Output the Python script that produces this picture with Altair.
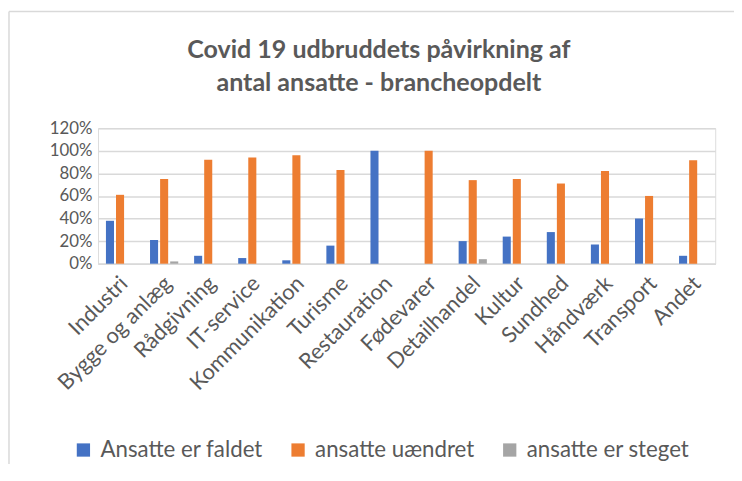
import altair as alt
import pandas as pd

categories = ["Industri", "Bygge og anlæg", "Rådgivning", "IT-service", "Kommunikation",
              "Turisme", "Restauration", "Fødevarer", "Detailhandel", "Kultur",
              "Sundhed", "Håndværk", "Transport", "Andet"]
series = ["Ansatte er faldet", "ansatte uændret", "ansatte er steget"]
faldet = [0.38, 0.21, 0.07, 0.05, 0.03, 0.16, 1.00, 0.00, 0.20, 0.24, 0.28, 0.17, 0.40, 0.07]
uaendret = [0.61, 0.75, 0.92, 0.94, 0.96, 0.83, 0.00, 1.00, 0.74, 0.75, 0.71, 0.82, 0.60, 0.915]
steget = [0.00, 0.02, 0.00, 0.00, 0.00, 0.00, 0.00, 0.00, 0.04, 0.00, 0.00, 0.00, 0.00, 0.00]
colors = ["#4472C4", "#ED7D31", "#A5A5A5"]
yticks = [0, 0.2, 0.4, 0.6, 0.8, 1.0, 1.2]
title_lines = ["Covid 19 udbruddets påvirkning af", "antal ansatte - brancheopdelt"]

rows = []
for i, c in enumerate(categories):
    for s, vals in zip(series, [faldet, uaendret, steget]):
        rows.append({"branche": c, "serie": s, "andel": vals[i]})
df = pd.DataFrame(rows)

FONT = "Lato"
TXT = "#595959"

bars = alt.Chart(df).mark_bar().encode(
    x=alt.X("branche:N", sort=categories, title=None,
            scale=alt.Scale(paddingInner=0.36, paddingOuter=0.18),
            axis=alt.Axis(labelAngle=-45, labelFontSize=22, labelColor=TXT, labelFont=FONT,
                          ticks=False, domainColor="#d9d9d9", domainWidth=1.5, labelPadding=9,
                          labelOffset=-3, labelLimit=0)),
    xOffset=alt.XOffset("serie:N", sort=series, scale=alt.Scale(paddingInner=0.2, paddingOuter=0)),
    y=alt.Y("andel:Q", title=None,
            scale=alt.Scale(domain=[0, 1.2], nice=False),
            axis=alt.Axis(values=yticks, format=".0%", labelFontSize=17, labelColor=TXT,
                          labelFont=FONT, ticks=False, domain=False, gridColor="#d9d9d9",
                          gridWidth=1.5, labelPadding=6)),
    color=alt.Color("serie:N", sort=series, title=None,
                    scale=alt.Scale(domain=series, range=colors),
                    legend=alt.Legend(orient="none", legendX=-26, legendY=314, direction="horizontal",
                                      symbolType="square", symbolSize=180, symbolStrokeWidth=0,
                                      labelFontSize=22.5, labelColor=TXT, labelFont=FONT,
                                      columnPadding=24, labelOffset=6, labelLimit=0)),
)

one = pd.DataFrame({"k": [0]})
border_left = alt.Chart(one).mark_rule(color="#d9d9d9", strokeWidth=1.5).encode(
    x=alt.value(-90), x2=alt.value(-90), y=alt.value(-118), y2=alt.value(360))
border_top = alt.Chart(one).mark_rule(color="#d9d9d9", strokeWidth=1.5).encode(
    x=alt.value(-90), x2=alt.value(660), y=alt.value(-118), y2=alt.value(-118))

title_df = pd.DataFrame({"t": title_lines})
title1 = alt.Chart(title_df.iloc[[0]]).mark_text(font=FONT, fontSize=25.3, fontWeight="bold", color=TXT,
                                                 align="center", baseline="middle").encode(
    text="t:N", x=alt.value(284), y=alt.value(-79))
title2 = alt.Chart(title_df.iloc[[1]]).mark_text(font=FONT, fontSize=25.3, fontWeight="bold", color=TXT,
                                                 align="center", baseline="middle").encode(
    text="t:N", x=alt.value(284), y=alt.value(-46))

chart = alt.layer(border_left, border_top, title1, title2, bars).properties(
    width=624, height=137,
    autosize=alt.AutoSizeParams(type="none"),
    padding={"left": 91, "top": 119, "right": 19, "bottom": 200},
).configure_view(stroke=None).configure(background="white")

chart.save("out.html", embed_options={"renderer": "svg", "actions": False})
